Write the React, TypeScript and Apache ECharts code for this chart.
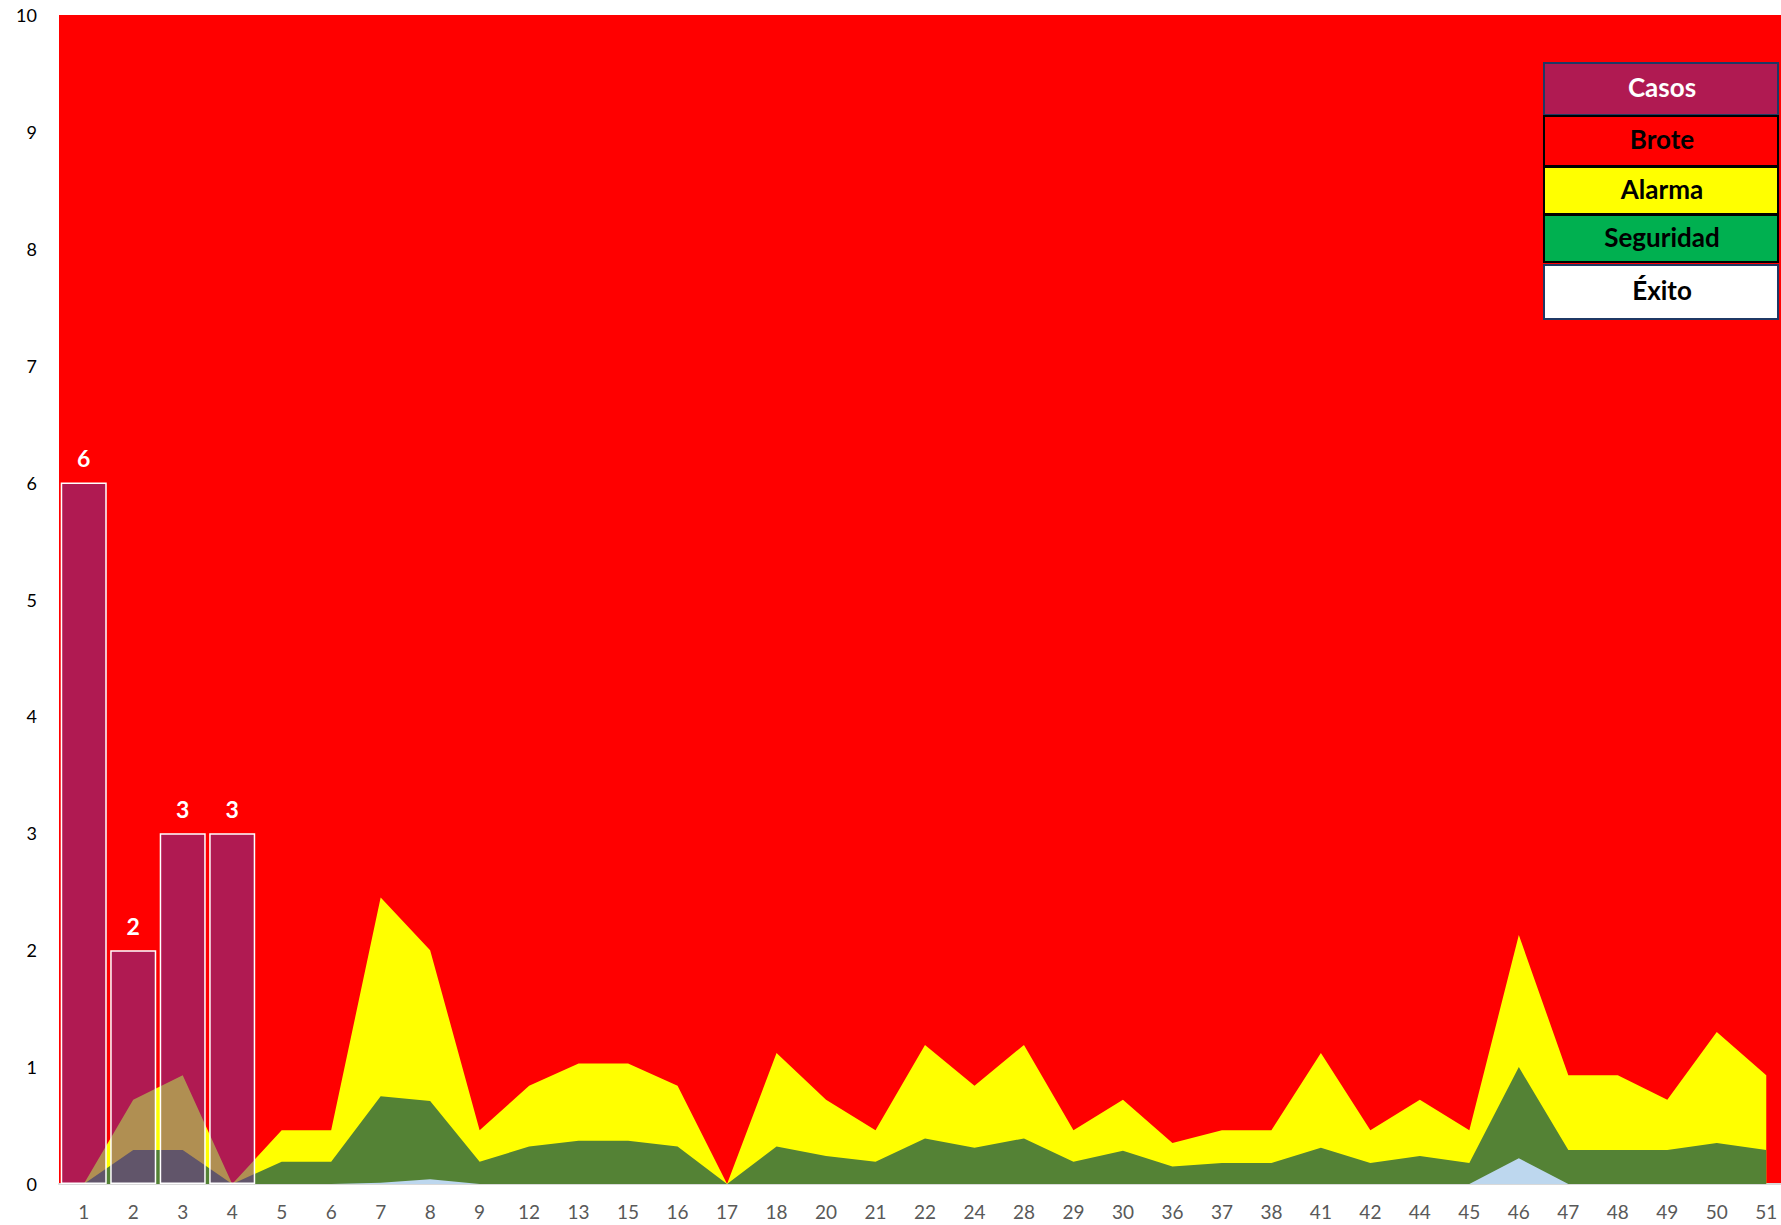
import React, { useEffect, useRef } from "react";
import * as echarts from "echarts";

const categories = ["1","2","3","4","5","6","7","8","9","12","13","15","16","17","18","20","21","22","24","28","29","30","36","37","38","41","42","44","45","46","47","48","49","50","51"];
const casos = [6, 2, 3, 3, 0, 0, 0, 0, 0, 0, 0, 0, 0, 0, 0, 0, 0, 0, 0, 0, 0, 0, 0, 0, 0, 0, 0, 0, 0, 0, 0, 0, 0, 0, 0];
const alarma = [0, 0.72, 0.93, 0, 0.46, 0.46, 2.45, 2.0, 0.46, 0.84, 1.03, 1.03, 0.84, 0, 1.12, 0.72, 0.46, 1.19, 0.84, 1.19, 0.46, 0.72, 0.35, 0.46, 0.46, 1.12, 0.46, 0.72, 0.46, 2.13, 0.93, 0.93, 0.72, 1.3, 0.93];
const seguridad = [0, 0.29, 0.29, 0, 0.19, 0.19, 0.75, 0.71, 0.19, 0.32, 0.37, 0.37, 0.32, 0, 0.32, 0.24, 0.19, 0.39, 0.31, 0.39, 0.19, 0.285, 0.15, 0.18, 0.18, 0.31, 0.18, 0.24, 0.18, 1.0, 0.29, 0.29, 0.29, 0.35, 0.29];
const exito = [0, 0, 0, 0, 0, 0, 0.01, 0.04, 0, 0, 0, 0, 0, 0, 0, 0, 0, 0, 0, 0, 0, 0, 0, 0, 0, 0, 0, 0, 0, 0.22, 0, 0, 0, 0, 0];

const legendItems = ["Casos", "Brote", "Alarma", "Seguridad", "Éxito"];
const legendFills = ["#B01A52", "#FF0000", "#FFFF00", "#00B050", "#FFFFFF"];
const legendBorders = ["#1F3864", "#000000", "#000000", "#000000", "#1F3864"];
const legendText = ["#FFFFFF", "#000000", "#000000", "#000000", "#000000"];
const legendTops = [63, 116, 167, 215, 265];
const legendHeights = [52, 50, 47, 47, 54];

export default function App() {
  const ref = useRef<HTMLDivElement>(null);
  useEffect(() => {
    document.body.style.margin = "0";
    const chart = echarts.init(ref.current!, null, { renderer: "svg" });
    const font = "Lato, 'Open Sans', sans-serif";
    const graphic: any[] = [];
    legendItems.forEach((name, i) => {
      graphic.push({
        type: "rect",
        shape: { x: 1544, y: legendTops[i], width: 234, height: legendHeights[i] },
        style: { fill: legendFills[i], stroke: legendBorders[i], lineWidth: 2 },
        z: 100,
      });
      graphic.push({
        type: "text",
        x: 1662,
        y: legendTops[i] + legendHeights[i] / 2 - 2,
        style: {
          text: name,
          fill: legendText[i],
          font: `bold 26px ${font}`,
          align: "center",
          verticalAlign: "middle",
        },
        z: 101,
      });
    });
    const areaSeries = (name: string, data: number[], color: string) => ({
      name,
      type: "line",
      data,
      symbol: "none",
      lineStyle: { width: 0, color },
      itemStyle: { color },
      areaStyle: { color, opacity: 1 },
      silent: true,
    });
    chart.setOption({
      animation: false,
      backgroundColor: "#FFFFFF",
      grid: {
        left: 59,
        right: 0,
        top: 15,
        bottom: 41,
        show: true,
        backgroundColor: "#FF0000",
        borderWidth: 0,
      },
      xAxis: {
        type: "category",
        data: categories,
        boundaryGap: true,
        axisLine: { show: true, lineStyle: { color: "#D9D9D9", width: 2 } },
        axisTick: { show: false },
        axisLabel: { color: "#595959", fontSize: 19, fontFamily: font, margin: 18, interval: 0 },
      },
      yAxis: {
        type: "value",
        min: 0,
        max: 10,
        interval: 1,
        splitLine: { show: false },
        axisLine: { show: false },
        axisTick: { show: false },
        axisLabel: { color: "#000000", fontSize: 18, fontFamily: font, margin: 22 },
      },
      series: [
        areaSeries("Alarma", alarma, "#FFFF00"),
        areaSeries("Seguridad", seguridad, "#548235"),
        areaSeries("Éxito", exito, "#BDD7EE"),
        {
          name: "Casos",
          type: "bar",
          data: casos.map((v) => (v === 0 ? null : v)),
          barCategoryGap: "7%",
          z: 5,
          itemStyle: {
            color: "rgba(109,48,152,0.54)",
            borderColor: "#FFFFFF",
            borderWidth: 1.5,
          },
          label: {
            show: true,
            position: "top",
            distance: 13,
            color: "#FFFFFF",
            fontSize: 23,
            fontWeight: "bold",
            fontFamily: font,
          },
        },
      ],
      graphic,
    });
    return () => chart.dispose();
  }, []);
  return (
    <div style={{ position: "fixed", left: 0, top: 0, width: 1781, height: 1225, overflow: "hidden" }}>
      <div ref={ref} style={{ width: 1791, height: 1225 }} />
    </div>
  );
}
